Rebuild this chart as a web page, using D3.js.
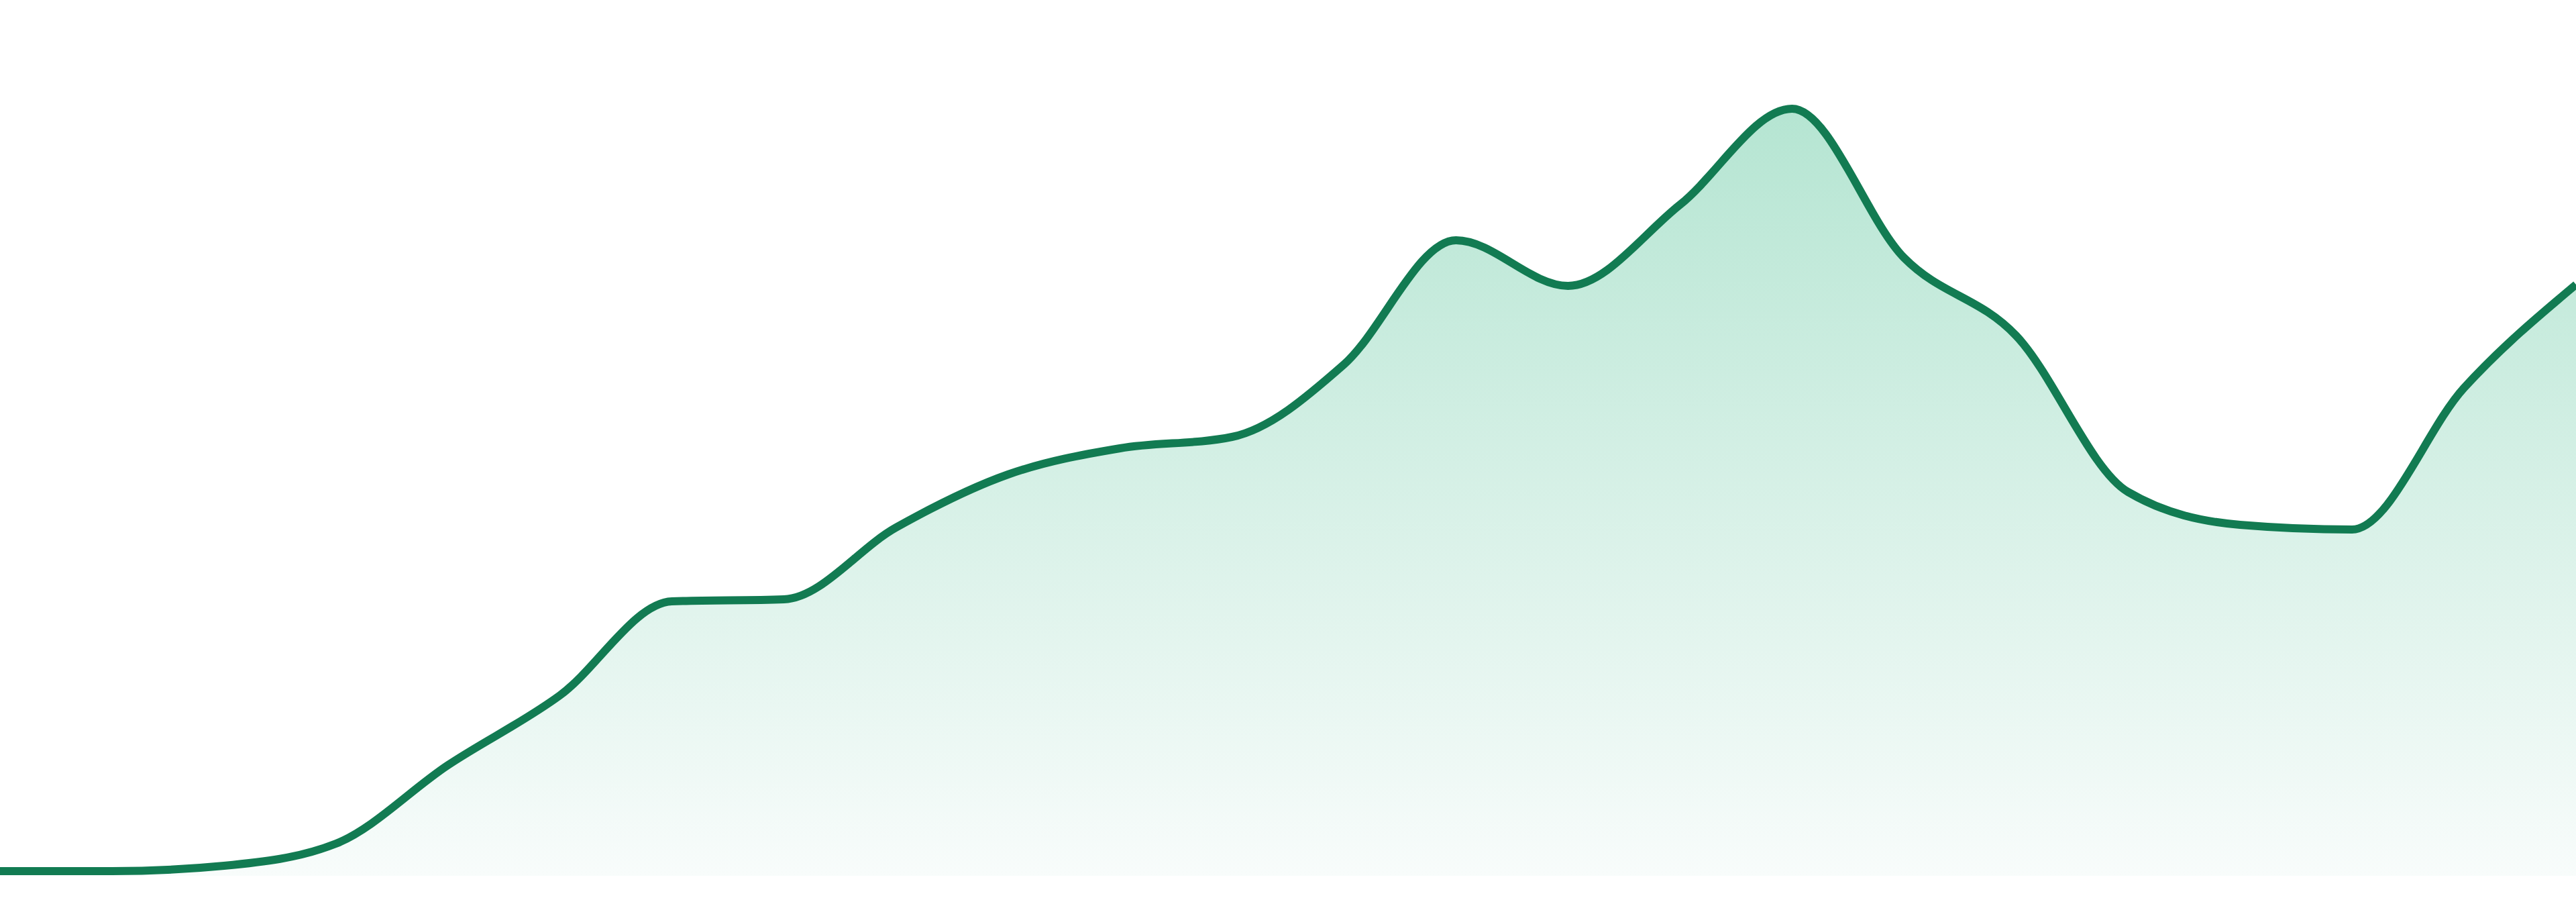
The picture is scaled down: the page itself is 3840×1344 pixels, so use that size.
<!DOCTYPE html>
<html>
<head>
<meta charset="utf-8">
<style>
  html, body { margin: 0; padding: 0; background: #ffffff; overflow: hidden; }
  svg { display: block; }
</style>
<script src="https://cdn.jsdelivr.net/npm/d3@7"></script>
</head>
<body>
<svg id="chart"></svg>
<script>
// ---- data ----
const categories = ["1","2","3","4","5","6","7","8","9","10","11","12",
                    "13","14","15","16","17","18","19","20","21","22","23","24"];
const values = [0.7, 0.7, 1.5, 4.8, 16.5, 26.9, 40.9, 41.2, 51.9, 59.8, 63.7, 65.4,
                76.2, 94.7, 87.9, 100.0, 114.3, 92.1, 80.5, 57.2, 52.3, 51.6, 72.7, 88.1];
const yDomain = [0, 130.5];

// ---- layout ----
const W = 3840, H = 1344;
const margin = { top: 0, right: 0, bottom: 39, left: 0 };
const innerH = H - margin.top - margin.bottom;

const data = categories.map((c, i) => ({ c, v: values[i] }));

const svg = d3.select("#chart").attr("width", W).attr("height", H);
const g = svg.append("g").attr("transform", `translate(${margin.left},${margin.top})`);

const x = d3.scalePoint().domain(categories).range([0, W - margin.left - margin.right]);
const y = d3.scaleLinear().domain(yDomain).range([innerH, 0]);

const defs = svg.append("defs");
const grad = defs.append("linearGradient")
  .attr("id", "areaFill")
  .attr("gradientUnits", "userSpaceOnUse")
  .attr("x1", 0).attr("x2", 0)
  .attr("y1", y(d3.max(values))).attr("y2", y(0));
grad.append("stop").attr("offset", "0%").attr("stop-color", "#b5e5d2");
grad.append("stop").attr("offset", "100%").attr("stop-color", "#f8fcfb");

const area = d3.area()
  .x(d => x(d.c))
  .y0(y(0))
  .y1(d => y(d.v))
  .curve(d3.curveMonotoneX);

const line = d3.line()
  .x(d => x(d.c))
  .y(d => y(d.v))
  .curve(d3.curveMonotoneX);

g.append("path")
  .datum(data)
  .attr("d", area)
  .attr("fill", "url(#areaFill)");

g.append("path")
  .datum(data)
  .attr("d", line)
  .attr("fill", "none")
  .attr("stroke", "#127b52")
  .attr("stroke-width", 12)
  .attr("stroke-linejoin", "round");
</script>
</body>
</html>
